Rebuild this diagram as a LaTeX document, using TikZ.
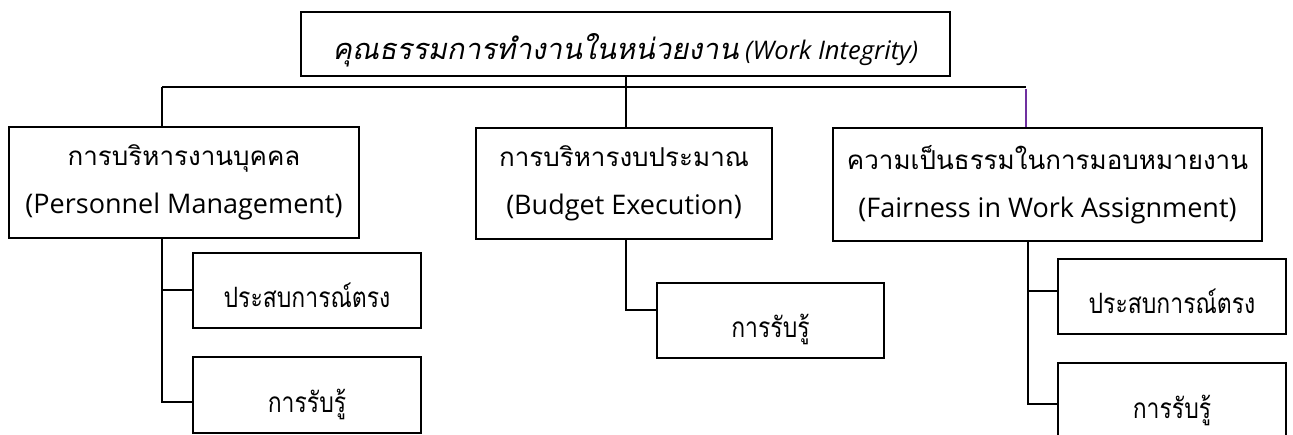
\documentclass[tikz,border=0pt]{standalone}
\usepackage{fontspec}
\setmainfont{Open Sans}
\newfontfamily\thaif[Script=Thai]{Loma}
\newfontfamily\thain[Script=Thai,FakeStretch=0.82]{Loma}
\newfontfamily\thaiit[Script=Thai,FakeSlant=0.2]{Loma}
\definecolor{linkpurple}{RGB}{112,48,160}
\newcommand{\thbig}{\fontsize{26}{48}\thaif}
\tikzset{
  box/.style={draw=black, line width=2pt, fill=white, align=center, inner sep=0pt},
  bigbox/.style={box, font=\fontsize{27}{48}\selectfont},
  leafbox/.style={box, minimum width=228pt, minimum height=75pt,
    text height=35pt, text depth=0pt, font=\fontsize{28}{30}\thain},
  wire/.style={draw=black, line width=2pt},
}
\begin{document}
\begin{tikzpicture}[x=1pt,y=-1pt]
\useasboundingbox (0,0) rectangle (1293,435);
% boxes
\node[box, minimum width=649pt, minimum height=64pt, text height=32pt, text depth=0pt] (top) at (625.5,44)
  {{\fontsize{29}{40}\thaiit คุณธรรมการทำงานในหน่วยงาน}{\fontsize{25.6}{40}\selectfont\itshape\ (Work Integrity)}};
\node[bigbox, minimum width=350pt, minimum height=111pt] (pm) at (184,182.5)
  {{\thbig การบริหารงานบุคคล}\\(Personnel Management)};
\node[bigbox, minimum width=296pt, minimum height=111pt] (be) at (624,183.5)
  {{\thbig การบริหารงบประมาณ}\\(Budget Execution)};
\node[bigbox, minimum width=429pt, minimum height=113pt] (fw) at (1047.5,184.5)
  {{\thbig ความเป็นธรรมในการมอบหมายงาน}\\(Fairness in Work Assignment)};
\node[leafbox] (pma) at (307,290.5) {ประสบการณ์ตรง};
\node[leafbox, minimum height=76pt] (pmb) at (307,395) {การรับรู้};
\node[leafbox, minimum width=227pt] (bea) at (770.5,320.5) {การรับรู้};
\node[leafbox] (fwa) at (1172,296.5) {ประสบการณ์ตรง};
\node[leafbox, minimum height=76pt] (fwb) at (1172,401) {การรับรู้};
% connectors
\coordinate (hl) at (162,87);
\coordinate (hr) at (1026,87);
\draw[wire] (hl) -- (hr);
\draw[wire] (top.south) -- (top.south |- be.north);
\draw[wire] (hl) -- (hl |- pm.north);
\draw[line width=2pt, linkpurple] ([yshift=-2pt]hr) -- (hr |- fw.north);
\draw[wire] (pm.south -| hl) |- (pma.west);
\draw[wire] (pm.south -| hl) |- ([yshift=-7pt]pmb.west);
\draw[wire] (be.south -| top.south) |- ([yshift=10.5pt]bea.west);
\coordinate (rs) at (1028,0);
\draw[wire] (fw.south -| rs) |- ([yshift=5.5pt]fwa.west);
\draw[wire] (fw.south -| rs) |- ([yshift=-3pt]fwb.west);
\end{tikzpicture}
\end{document}
